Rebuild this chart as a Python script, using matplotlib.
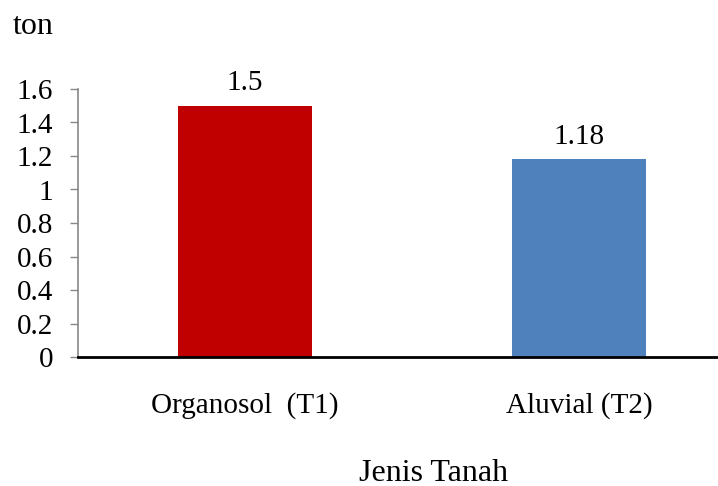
import matplotlib
matplotlib.use("Agg")
import matplotlib.pyplot as plt

categories = ["Organosol  (T1)", "Aluvial (T2)"]
values = [1.5, 1.18]
value_labels = ["1.5", "1.18"]
colors = ["#C00000", "#4F81BD"]
yticks = [0, 0.2, 0.4, 0.6, 0.8, 1.0, 1.2, 1.4, 1.6]
ytick_labels = ["0", "0.2", "0.4", "0.6", "0.8", "1", "1.2", "1.4", "1.6"]

plt.rcParams["font.family"] = ["Liberation Serif", "DejaVu Serif"]

W, H = 718, 486
fig = plt.figure(figsize=(W / 100, H / 100), dpi=100)

# axes: left spine at x=78, bottom at y=357, top (1.6) at y=89; right edge runs past the figure
left, right = 78, 746
top, bottom = 89, 357
ax = fig.add_axes([left / W, 1 - bottom / H, (right - left) / W, (bottom - top) / H])

x = [0, 1]
ax.bar(x, values, width=0.4, color=colors, zorder=2)
ax.set_xlim(-0.5, 1.5)
ax.set_ylim(0, 1.6)

for xi, v, lab in zip(x, values, value_labels):
    ax.annotate(lab, (xi, v), xytext=(0, 7), textcoords="offset points",
                ha="center", va="bottom", fontsize=21, color="#000000")

ax.set_yticks(yticks)
ax.set_yticklabels(ytick_labels, fontsize=21)
ax.set_xticks(x)
ax.set_xticklabels(categories, fontsize=21)
ax.tick_params(axis="x", length=0, pad=25)
ax.tick_params(axis="y", length=6, width=1, color="#888888", pad=12)

for s in ["top", "right"]:
    ax.spines[s].set_visible(False)
ax.spines["left"].set_color("#888888")
ax.spines["left"].set_linewidth(1.2)
ax.spines["bottom"].set_color("#000000")
ax.spines["bottom"].set_linewidth(2)

fig.text(13 / W, 1 - 27 / H, "ton", fontsize=23, ha="left", va="center")
fig.text(434 / W, 1 - 473 / H, "Jenis Tanah", fontsize=23, ha="center", va="center")

fig.savefig("out.png", dpi=100)
